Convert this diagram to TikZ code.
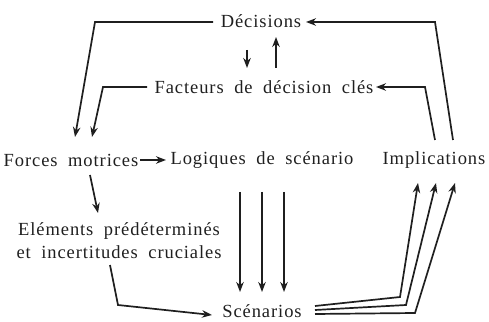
\documentclass[tikz,border=0pt]{standalone}
\usepackage{fontspec}
\setmainfont{Liberation Serif}[LetterSpace=5,WordSpace=1.9]
\usetikzlibrary{arrows.meta,calc}
\begin{document}
\begin{tikzpicture}[x=1pt,y=1pt,
  lbl/.style={font=\fontsize{18.5}{23}\selectfont,inner sep=0pt,text=black!88},
  arr/.style={line width=1.7pt,-{Stealth[length=10pt,width=7.5pt]},black!88}]
\useasboundingbox (0,0) rectangle (489,321);
\node[lbl] (dec) at (261,300) {Décisions};
\node[lbl] (fac) at (264,234) {Facteurs de décision clés};
\node[lbl] (forces) at (71,161) {Forces motrices};
\node[lbl] (log) at (262,161) {Logiques de scénario};
\node[lbl] (impl) at (434,161) {Implications};
\node[lbl,align=center] (elem) at (119,80) {Eléments prédéterminés\\et incertitudes cruciales};
\node[lbl] (scen) at (262,10) {Scénarios};
% Decisions -> Forces
\draw[arr] ($(dec)+(-48,-1)$) -- ($(dec)+(-166,-1)$) -- ($(forces)+(4,23)$);
% Facteurs -> Forces
\draw[arr] ($(fac)+(-117,0)$) -- ($(fac)+(-161,0)$) -- ($(forces)+(21,23)$);
% Decisions <-> Facteurs
\draw[arr] ($(dec)+(-14,-29)$) -- ($(fac)+(-17,19)$);
\draw[arr] ($(fac)+(12,19)$) -- ($(dec)+(15,-16)$);
% Implications -> Facteurs
\draw[arr] ($(impl)+(1,20)$) -- ($(fac)+(161,0)$) -- ($(fac)+(112,0)$);
% Implications -> Decisions
\draw[arr] ($(impl)+(19,20)$) -- ($(dec)+(174,-1)$) -- ($(dec)+(45,-1)$);
% Forces -> Logiques
\draw[arr] ($(forces)+(69,0)$) -- ($(log)+(-96,0)$);
% Forces -> Elements
\draw[arr] ($(forces)+(19,-15)$) -- ($(elem)+(-21,28)$);
% Elements -> Scenarios
\draw[arr] ($(elem)+(-9,-24)$) -- ($(scen)+(-144,6)$) -- ($(scen)+(-50,-4)$);
% Logiques -> Scenarios
\draw[arr] ($(log)+(-22,-32)$) -- ($(scen)+(-22,19)$);
\draw[arr] ($(log)+(0,-32)$) -- ($(scen)+(0,19)$);
\draw[arr] ($(log)+(22,-32)$) -- ($(scen)+(22,19)$);
% Scenarios -> Implications
\draw[arr] ($(scen)+(53,5)$) -- ($(scen)+(138,14)$) -- ($(impl)+(-16,-23)$);
\draw[arr] ($(scen)+(53,1)$) -- ($(scen)+(144,6)$) -- ($(impl)+(2,-23)$);
\draw[arr] ($(scen)+(53,-3)$) -- ($(scen)+(153,-2)$) -- ($(impl)+(21,-23)$);
\end{tikzpicture}
\end{document}
